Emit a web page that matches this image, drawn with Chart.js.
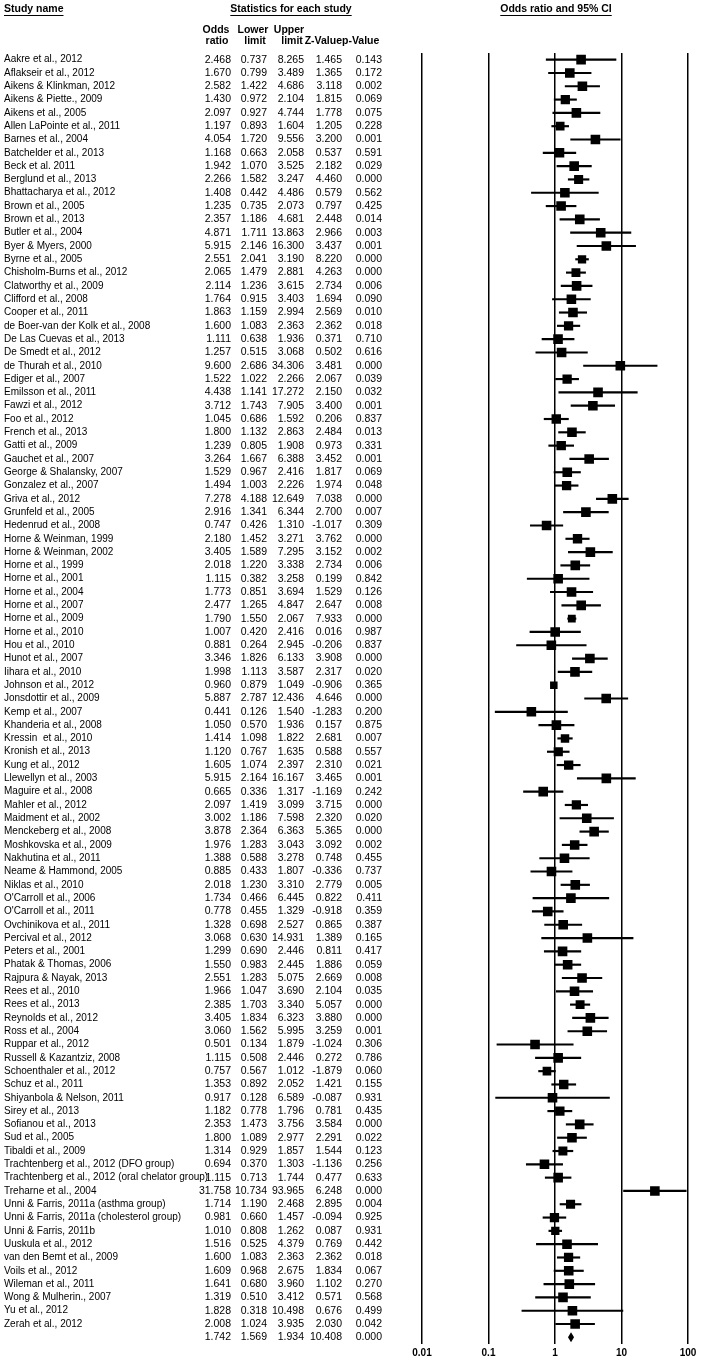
<!DOCTYPE html>
<html lang="en">
<head>
<meta charset="UTF-8">
<title>Odds ratio and 95% CI - forest plot</title>
<script src="https://cdn.jsdelivr.net/npm/chart.js"></script>
<style>
  html, body { margin: 0; padding: 0; background: #fff; }
  .plot-wrap { position: relative; width: 702px; height: 1362px; }
</style>
</head>
<body>
<div class="plot-wrap"><canvas id="forest-chart" width="702" height="1362"></canvas></div>
<script>
const studyNames = [
  'Aakre et al., 2012', 'Aflakseir et al., 2012', 'Aikens & Klinkman, 2012', 'Aikens & Piette., 2009',
  'Aikens et al., 2005', 'Allen LaPointe et al., 2011', 'Barnes et al., 2004', 'Batchelder et al., 2013',
  'Beck et al. 2011', 'Berglund et al., 2013', 'Bhattacharya et al., 2012', 'Brown et al., 2005',
  'Brown et al., 2013', 'Butler et al., 2004', 'Byer & Myers, 2000', 'Byrne et al., 2005',
  'Chisholm-Burns et al., 2012', 'Clatworthy et al., 2009', 'Clifford et al., 2008', 'Cooper et al., 2011',
  'de Boer-van der Kolk et al., 2008', 'De Las Cuevas et al., 2013', 'De Smedt et al., 2012', 'de Thurah et al., 2010',
  'Ediger et al., 2007', 'Emilsson et al., 2011', 'Fawzi et al., 2012', 'Foo et al., 2012',
  'French et al., 2013', 'Gatti et al., 2009', 'Gauchet et al., 2007', 'George & Shalansky, 2007',
  'Gonzalez et al., 2007', 'Griva et al., 2012', 'Grunfeld et al., 2005', 'Hedenrud et al., 2008',
  'Horne & Weinman, 1999', 'Horne & Weinman, 2002', 'Horne et al., 1999', 'Horne et al., 2001',
  'Horne et al., 2004', 'Horne et al., 2007', 'Horne et al., 2009', 'Horne et al., 2010',
  'Hou et al., 2010', 'Hunot et al., 2007', 'Iihara et al., 2010', 'Johnson et al., 2012',
  'Jonsdottir et al., 2009', 'Kemp et al., 2007', 'Khanderia et al., 2008', 'Kressin  et al., 2010',
  'Kronish et al., 2013', 'Kung et al., 2012', 'Llewellyn et al., 2003', 'Maguire et al., 2008',
  'Mahler et al., 2012', 'Maidment et al., 2002', 'Menckeberg et al., 2008', 'Moshkovska et al., 2009',
  'Nakhutina et al., 2011', 'Neame & Hammond, 2005', 'Niklas et al., 2010', "O'Carroll et al., 2006",
  "O'Carroll et al., 2011", 'Ovchinikova et al., 2011', 'Percival et al., 2012', 'Peters et al., 2001',
  'Phatak & Thomas, 2006', 'Rajpura & Nayak, 2013', 'Rees et al., 2010', 'Rees et al., 2013',
  'Reynolds et al., 2012', 'Ross et al., 2004', 'Ruppar et al., 2012', 'Russell & Kazantziz, 2008',
  'Schoenthaler et al., 2012', 'Schuz et al., 2011', 'Shiyanbola & Nelson, 2011', 'Sirey et al., 2013',
  'Sofianou et al., 2013', 'Sud et al., 2005', 'Tibaldi et al., 2009', 'Trachtenberg et al., 2012 (DFO group)',
  'Trachtenberg et al., 2012 (oral chelator group)', 'Treharne et al., 2004', 'Unni & Farris, 2011a (asthma group)', 'Unni & Farris, 2011a (cholesterol group)',
  'Unni & Farris, 2011b', 'Uuskula et al., 2012', 'van den Bemt et al., 2009', 'Voils et al., 2012',
  'Wileman et al., 2011', 'Wong & Mulherin., 2007', 'Yu et al., 2012', 'Zerah et al., 2012'
];

const oddsRatios = [
  2.468, 1.670, 2.582, 1.430, 2.097, 1.197, 4.054, 1.168, 1.942, 2.266, 1.408, 1.235,
  2.357, 4.871, 5.915, 2.551, 2.065, 2.114, 1.764, 1.863, 1.600, 1.111, 1.257, 9.600,
  1.522, 4.438, 3.712, 1.045, 1.800, 1.239, 3.264, 1.529, 1.494, 7.278, 2.916, 0.747,
  2.180, 3.405, 2.018, 1.115, 1.773, 2.477, 1.790, 1.007, 0.881, 3.346, 1.998, 0.960,
  5.887, 0.441, 1.050, 1.414, 1.120, 1.605, 5.915, 0.665, 2.097, 3.002, 3.878, 1.976,
  1.388, 0.885, 2.018, 1.734, 0.778, 1.328, 3.068, 1.299, 1.550, 2.551, 1.966, 2.385,
  3.405, 3.060, 0.501, 1.115, 0.757, 1.353, 0.917, 1.182, 2.353, 1.800, 1.314, 0.694,
  1.115, 31.758, 1.714, 0.981, 1.010, 1.516, 1.600, 1.609, 1.641, 1.319, 1.828, 2.008
];

const lowerLimits = [
  0.737, 0.799, 1.422, 0.972, 0.927, 0.893, 1.720, 0.663, 1.070, 1.582, 0.442, 0.735,
  1.186, 1.711, 2.146, 2.041, 1.479, 1.236, 0.915, 1.159, 1.083, 0.638, 0.515, 2.686,
  1.022, 1.141, 1.743, 0.686, 1.132, 0.805, 1.667, 0.967, 1.003, 4.188, 1.341, 0.426,
  1.452, 1.589, 1.220, 0.382, 0.851, 1.265, 1.550, 0.420, 0.264, 1.826, 1.113, 0.879,
  2.787, 0.126, 0.570, 1.098, 0.767, 1.074, 2.164, 0.336, 1.419, 1.186, 2.364, 1.283,
  0.588, 0.433, 1.230, 0.466, 0.455, 0.698, 0.630, 0.690, 0.983, 1.283, 1.047, 1.703,
  1.834, 1.562, 0.134, 0.508, 0.567, 0.892, 0.128, 0.778, 1.473, 1.089, 0.929, 0.370,
  0.713, 10.734, 1.190, 0.660, 0.808, 0.525, 1.083, 0.968, 0.680, 0.510, 0.318, 1.024
];

const upperLimits = [
  8.265, 3.489, 4.686, 2.104, 4.744, 1.604, 9.556, 2.058, 3.525, 3.247, 4.486, 2.073,
  4.681, 13.863, 16.300, 3.190, 2.881, 3.615, 3.403, 2.994, 2.363, 1.936, 3.068, 34.306,
  2.266, 17.272, 7.905, 1.592, 2.863, 1.908, 6.388, 2.416, 2.226, 12.649, 6.344, 1.310,
  3.271, 7.295, 3.338, 3.258, 3.694, 4.847, 2.067, 2.416, 2.945, 6.133, 3.587, 1.049,
  12.436, 1.540, 1.936, 1.822, 1.635, 2.397, 16.167, 1.317, 3.099, 7.598, 6.363, 3.043,
  3.278, 1.807, 3.310, 6.445, 1.329, 2.527, 14.931, 2.446, 2.445, 5.075, 3.690, 3.340,
  6.323, 5.995, 1.879, 2.446, 1.012, 2.052, 6.589, 1.796, 3.756, 2.977, 1.857, 1.303,
  1.744, 93.965, 2.468, 1.457, 1.262, 4.379, 2.363, 2.675, 3.960, 3.412, 10.498, 3.935
];

const zValues = [
  1.465, 1.365, 3.118, 1.815, 1.778, 1.205, 3.200, 0.537, 2.182, 4.460, 0.579, 0.797,
  2.448, 2.966, 3.437, 8.220, 4.263, 2.734, 1.694, 2.569, 2.362, 0.371, 0.502, 3.481,
  2.067, 2.150, 3.400, 0.206, 2.484, 0.973, 3.452, 1.817, 1.974, 7.038, 2.700, -1.017,
  3.762, 3.152, 2.734, 0.199, 1.529, 2.647, 7.933, 0.016, -0.206, 3.908, 2.317, -0.906,
  4.646, -1.283, 0.157, 2.681, 0.588, 2.310, 3.465, -1.169, 3.715, 2.320, 5.365, 3.092,
  0.748, -0.336, 2.779, 0.822, -0.918, 0.865, 1.389, 0.811, 1.886, 2.669, 2.104, 5.057,
  3.880, 3.259, -1.024, 0.272, -1.879, 1.421, -0.087, 0.781, 3.584, 2.291, 1.544, -1.136,
  0.477, 6.248, 2.895, -0.094, 0.087, 0.769, 2.362, 1.834, 1.102, 0.571, 0.676, 2.030
];

const pValues = [
  0.143, 0.172, 0.002, 0.069, 0.075, 0.228, 0.001, 0.591, 0.029, 0.000, 0.562, 0.425,
  0.014, 0.003, 0.001, 0.000, 0.000, 0.006, 0.090, 0.010, 0.018, 0.710, 0.616, 0.000,
  0.039, 0.032, 0.001, 0.837, 0.013, 0.331, 0.001, 0.069, 0.048, 0.000, 0.007, 0.309,
  0.000, 0.002, 0.006, 0.842, 0.126, 0.008, 0.000, 0.987, 0.837, 0.000, 0.020, 0.365,
  0.000, 0.200, 0.875, 0.007, 0.557, 0.021, 0.001, 0.242, 0.000, 0.020, 0.000, 0.002,
  0.455, 0.737, 0.005, 0.411, 0.359, 0.387, 0.165, 0.417, 0.059, 0.008, 0.035, 0.000,
  0.000, 0.001, 0.306, 0.786, 0.060, 0.155, 0.931, 0.435, 0.000, 0.022, 0.123, 0.256,
  0.633, 0.000, 0.004, 0.925, 0.931, 0.442, 0.018, 0.067, 0.270, 0.568, 0.499, 0.042
];

// pooled estimate: odds ratio, lower, upper, z, p
const summaryStats = [1.742, 1.569, 1.934, 10.408, 0.000];

const axisTicks = [0.01, 0.1, 1, 10, 100];

const rowLabels = studyNames.concat(['Summary']);
const nameFont = '10px "Liberation Sans", Arial, sans-serif';
const numberFont = '10.5px "Liberation Sans", Arial, sans-serif';
const boldFont = 'bold 10.5px "Liberation Sans", Arial, sans-serif';
const columnRight = [231, 267, 304, 342, 382];

function putText(ctx, text, x, y, align, font) {
  ctx.save();
  ctx.font = font;
  ctx.fillStyle = '#000';
  ctx.textBaseline = 'middle';
  ctx.textAlign = align;
  ctx.fillText(text, x, y);
  ctx.restore();
}

function putUnderlined(ctx, text, x, y, align) {
  putText(ctx, text, x, y, align, boldFont);
  ctx.save();
  ctx.font = boldFont;
  const w = ctx.measureText(text).width;
  const left = align === 'center' ? x - w / 2 : x;
  ctx.strokeStyle = '#000';
  ctx.lineWidth = 1;
  ctx.beginPath();
  ctx.moveTo(left, y + 6.5);
  ctx.lineTo(left + w, y + 6.5);
  ctx.stroke();
  ctx.restore();
}

// square size: narrow intervals get a slightly smaller box
function boxRadius(context) {
  const i = context.dataIndex;
  const spread = Math.log(upperLimits[i] / lowerLimits[i]);
  const side = 7 + 2.6 * Math.min(1, spread / 0.9);
  return side / Math.SQRT2;
}

// table on the left: names and statistics, rows placed with the chart's y scale
const tablePlugin = {
  id: 'studyTable',
  afterDraw(chart) {
    const ctx = chart.ctx;
    const yScale = chart.scales.y;

    putUnderlined(ctx, 'Study name', 4, 9, 'left');
    putUnderlined(ctx, 'Statistics for each study', 291, 9, 'center');
    putUnderlined(ctx, 'Odds ratio and 95% CI', 556, 9, 'center');

    putText(ctx, 'Odds', 216, 30, 'center', boldFont);
    putText(ctx, 'ratio', 217, 41, 'center', boldFont);
    putText(ctx, 'Lower', 253, 30, 'center', boldFont);
    putText(ctx, 'limit', 255, 41, 'center', boldFont);
    putText(ctx, 'Upper', 289, 30, 'center', boldFont);
    putText(ctx, 'limit', 292, 41, 'center', boldFont);
    putText(ctx, 'Z-Value', 342, 41, 'right', boldFont);
    putText(ctx, 'p-Value', 342, 41, 'left', boldFont);

    studyNames.forEach((name, i) => {
      const y = yScale.getPixelForValue(i);
      putText(ctx, name, 4, y, 'left', nameFont);
      const cells = [oddsRatios[i], lowerLimits[i], upperLimits[i], zValues[i], pValues[i]];
      cells.forEach((v, c) => putText(ctx, v.toFixed(3), columnRight[c], y, 'right', numberFont));
    });

    const ys = yScale.getPixelForValue(studyNames.length);
    summaryStats.forEach((v, c) => putText(ctx, v.toFixed(3), columnRight[c], ys, 'right', numberFont));
  }
};

// pooled diamond from the summary estimate and its limits
const diamondPlugin = {
  id: 'summaryDiamond',
  afterDatasetsDraw(chart) {
    const ctx = chart.ctx;
    const x = chart.scales.x;
    const yc = chart.scales.y.getPixelForValue(studyNames.length);
    const h = 5;
    ctx.save();
    ctx.fillStyle = '#000';
    ctx.beginPath();
    ctx.moveTo(x.getPixelForValue(summaryStats[1]), yc);
    ctx.lineTo(x.getPixelForValue(summaryStats[0]), yc - h);
    ctx.lineTo(x.getPixelForValue(summaryStats[2]), yc);
    ctx.lineTo(x.getPixelForValue(summaryStats[0]), yc + h);
    ctx.closePath();
    ctx.fill();
    ctx.restore();
  }
};

const ctx = document.getElementById('forest-chart').getContext('2d');
new Chart(ctx, {
  type: 'bar',
  data: {
    labels: rowLabels,
    datasets: [
      {
        type: 'bar',
        label: '95% CI',
        indexAxis: 'y',
        data: lowerLimits.map((lo, i) => [lo, upperLimits[i]]),
        backgroundColor: '#000',
        borderWidth: 0,
        barThickness: 1.5,
        grouped: false
      },
      {
        type: 'scatter',
        label: 'Odds ratio',
        data: oddsRatios.map((v, i) => ({ x: v, y: i })),
        pointStyle: 'rect',
        pointRadius: boxRadius,
        pointHoverRadius: boxRadius,
        backgroundColor: '#000',
        borderColor: '#000',
        borderWidth: 0,
        showLine: false
      }
    ]
  },
  options: {
    responsive: false,
    animation: false,
    devicePixelRatio: 1,
    layout: { padding: { left: 422, right: 14, top: 53, bottom: 0 } },
    plugins: { legend: { display: false }, tooltip: { enabled: false } },
    scales: {
      x: {
        type: 'logarithmic',
        position: 'bottom',
        min: 0.01,
        max: 100,
        offset: false,
        afterBuildTicks: (scale) => { scale.ticks = axisTicks.map(v => ({ value: v })); },
        ticks: {
          autoSkip: false,
          maxRotation: 0,
          padding: 3,
          color: '#000',
          font: { family: '"Liberation Sans", Arial, sans-serif', size: 10, weight: 'bold' },
          callback: (v) => String(v)
        },
        grid: { color: '#000', lineWidth: 1.5, drawTicks: false, offset: false },
        border: { display: false }
      },
      y: {
        type: 'category',
        labels: rowLabels,
        offset: true,
        display: false
      }
    }
  },
  plugins: [tablePlugin, diamondPlugin]
});
</script>
</body>
</html>
